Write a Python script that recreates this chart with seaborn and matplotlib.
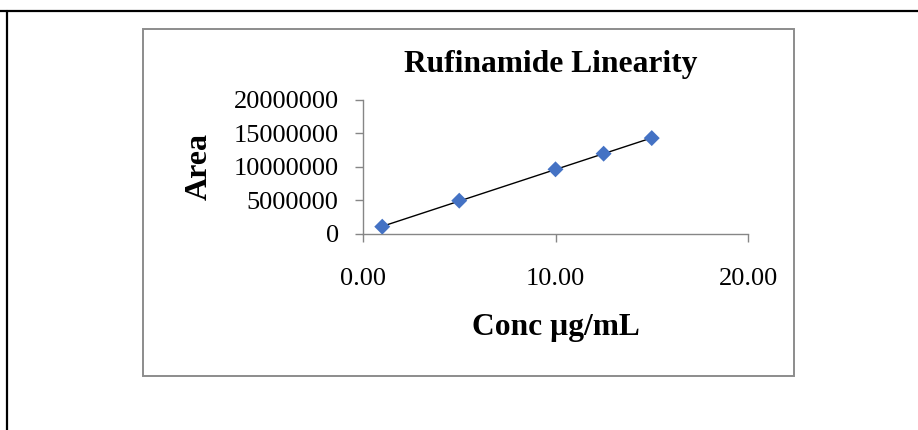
import matplotlib
matplotlib.use("Agg")
import matplotlib.pyplot as plt
from matplotlib.lines import Line2D
from matplotlib.patches import Rectangle
from matplotlib.ticker import FixedLocator, StrMethodFormatter
import numpy as np
import pandas as pd
import seaborn as sns

# Calibration data
conc = [1.0, 5.0, 10.0, 12.5, 15.0]
area = [1050000, 4940000, 9630000, 11970000, 14300000]

x_ticks = [0, 10, 20]
y_ticks = [0, 5000000, 10000000, 15000000, 20000000]

title = "Rufinamide Linearity"
x_label = "Conc µg/mL"
y_label = "Area"

sns.set_style("white")
plt.rcParams["font.family"] = ["Liberation Serif", "DejaVu Serif"]
plt.rcParams["text.color"] = "black"
plt.rcParams["axes.labelcolor"] = "black"
plt.rcParams["xtick.color"] = "black"
plt.rcParams["ytick.color"] = "black"

df = pd.DataFrame({"conc": conc, "area": area})

W, H = 918, 430
fig = plt.figure(figsize=(W / 100, H / 100), dpi=100)

# page frame (top and left rules)
fig.add_artist(Line2D([0, 1], [1 - 11 / H, 1 - 11 / H], color="black", lw=1.6,
                      transform=fig.transFigure))
fig.add_artist(Line2D([6.5 / W, 6.5 / W], [0, 1 - 11 / H], color="black", lw=1.6,
                      transform=fig.transFigure))

# chart area border
fig.add_artist(Rectangle((143 / W, 1 - 376 / H), (794 - 143) / W, (376 - 29) / H,
                         fill=False, edgecolor="#8c8c8c", lw=1.4,
                         transform=fig.transFigure))

ax = fig.add_axes([363 / W, 1 - 233.7 / H, 385 / W, 133.7 / H])
ax.set_facecolor("none")

sns.regplot(data=df, x="conc", y="area", ax=ax, scatter=False, ci=None,
            color="black", line_kws={"lw": 1.0})
sns.scatterplot(data=df, x="conc", y="area", ax=ax, marker="D", s=66,
                color="#4472C4", edgecolor="none", zorder=3)

ax.set_xlim(0, 20)
ax.set_ylim(0, 20000000)
ax.xaxis.set_major_locator(FixedLocator(x_ticks))
ax.yaxis.set_major_locator(FixedLocator(y_ticks))
ax.xaxis.set_major_formatter(StrMethodFormatter("{x:.2f}"))
ax.yaxis.set_major_formatter(StrMethodFormatter("{x:.0f}"))

for side in ("top", "right"):
    ax.spines[side].set_visible(False)
for side in ("left", "bottom"):
    ax.spines[side].set_color("#868686")
    ax.spines[side].set_linewidth(1.0)

ax.tick_params(axis="y", direction="out", length=5.5, width=1.0, color="#868686",
               labelcolor="black", labelsize=19, pad=12, left=True)
ax.tick_params(axis="x", direction="out", length=5.5, width=1.0, color="#868686",
               labelcolor="black", labelsize=19, pad=19, bottom=True)

ax.set_xlabel(x_label, fontsize=22.7, fontweight="bold", labelpad=17, color="black")
ax.set_ylabel(y_label, fontsize=23, fontweight="bold", labelpad=14, color="black")
ax.set_title(title, fontsize=22.7, fontweight="bold", pad=20, x=0.487, color="black")

fig.savefig("out.png", dpi=100)
